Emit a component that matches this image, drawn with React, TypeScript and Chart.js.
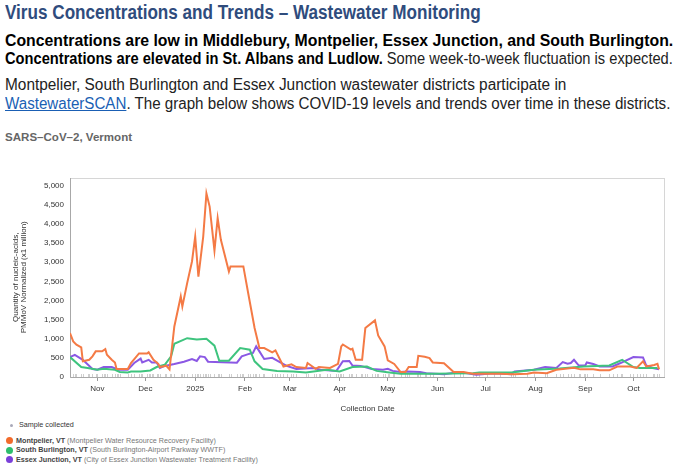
import React, { useEffect, useLayoutEffect, useRef } from 'react';
import { Chart, registerables } from 'chart.js';

Chart.register(...registerables);

// ---- Data: SARS-CoV-2 in wastewater, PMMoV normalized (x1 million) ----
const montpelierDates = [
  '2024-10-15', '2024-10-17', '2024-10-19', '2024-10-22', '2024-10-23', '2024-10-27', '2024-10-29', '2024-10-31',
  '2024-11-04', '2024-11-06', '2024-11-07', '2024-11-10', '2024-11-12', '2024-11-13', '2024-11-20', '2024-11-22',
  '2024-11-27', '2024-12-02', '2024-12-03', '2024-12-06', '2024-12-09', '2024-12-10', '2024-12-14', '2024-12-16',
  '2024-12-19', '2024-12-23', '2024-12-24', '2024-12-27', '2024-12-30', '2025-01-01', '2025-01-03', '2025-01-06',
  '2025-01-08', '2025-01-10', '2025-01-13', '2025-01-15', '2025-01-17', '2025-01-22', '2025-01-23', '2025-01-31',
  '2025-02-03', '2025-02-07', '2025-02-10', '2025-02-13', '2025-02-18', '2025-02-20', '2025-02-25', '2025-03-02',
  '2025-03-05', '2025-03-11', '2025-03-12', '2025-03-17', '2025-03-19', '2025-03-26', '2025-03-31', '2025-04-02',
  '2025-04-03', '2025-04-08', '2025-04-09', '2025-04-11', '2025-04-15', '2025-04-17', '2025-04-23', '2025-04-25',
  '2025-04-29', '2025-05-01', '2025-05-05', '2025-05-09', '2025-05-12', '2025-05-14', '2025-05-19', '2025-05-20',
  '2025-05-24', '2025-05-27', '2025-05-29', '2025-06-05', '2025-06-11', '2025-06-17', '2025-06-23', '2025-07-02',
  '2025-07-10', '2025-07-18', '2025-07-27', '2025-07-31', '2025-08-08', '2025-08-14', '2025-08-25', '2025-08-29',
  '2025-09-06', '2025-09-10', '2025-09-16', '2025-09-21', '2025-09-29', '2025-10-03', '2025-10-07', '2025-10-09',
  '2025-10-14', '2025-10-16', '2025-10-17',
];
const montpelierValues = [
  1150, 930, 845, 775, 410, 450, 540, 670,
  670, 730, 580, 450, 380, 210, 210, 365,
  615, 615, 650, 450, 345, 260, 295, 200,
  1320, 2105, 1845, 2455, 3020, 3670, 2625, 3670,
  4800, 4455, 3305, 4150, 3585, 2755, 2890, 2890,
  2195, 1280, 757, 757, 645, 695, 275, 330,
  260, 235, 365, 215, 260, 235, 345, 800,
  850, 715, 740, 450, 450, 1280, 1480, 1085,
  800, 435, 340, 130, 130, 260, 260, 555,
  530, 495, 380, 360, 130, 130, 85, 85,
  85, 75, 85, 120, 100, 190, 240, 200,
  200, 175, 175, 275, 275, 235, 410, 275,
  315, 345, 200,
];

const southBurlingtonDates = [
  '2024-10-15', '2024-10-22', '2024-10-26', '2024-11-01', '2024-11-05', '2024-11-12', '2024-11-15', '2024-11-20',
  '2024-11-22', '2024-11-28', '2024-12-04', '2024-12-08', '2024-12-13', '2024-12-17', '2024-12-19', '2024-12-27',
  '2025-01-02', '2025-01-08', '2025-01-13', '2025-01-16', '2025-01-22', '2025-01-29', '2025-02-04', '2025-02-07',
  '2025-02-12', '2025-02-21', '2025-03-03', '2025-03-11', '2025-03-24', '2025-04-01', '2025-04-09', '2025-04-18',
  '2025-04-24', '2025-05-02', '2025-05-09', '2025-05-29', '2025-06-23', '2025-06-27', '2025-07-17', '2025-07-31',
  '2025-08-16', '2025-08-31', '2025-09-16', '2025-09-24', '2025-10-01', '2025-10-05', '2025-10-16',
];
const southBurlingtonValues = [
  520, 260, 235, 190, 215, 190, 130, 120,
  145, 145, 170, 260, 320, 540, 870, 1015,
  980, 1000, 820, 425, 425, 757, 715, 410,
  210, 160, 145, 120, 190, 145, 260, 275,
  160, 120, 85, 85, 100, 120, 120, 190,
  225, 275, 300, 450, 260, 235, 235,
];

const essexJunctionDates = [
  '2024-10-15', '2024-10-18', '2024-10-23', '2024-10-29', '2024-11-01', '2024-11-05', '2024-11-10', '2024-11-14',
  '2024-11-20', '2024-11-24', '2024-11-28', '2024-11-29', '2024-12-03', '2024-12-05', '2024-12-08', '2024-12-10',
  '2024-12-13', '2024-12-19', '2024-12-25', '2024-12-30', '2025-01-02', '2025-01-04', '2025-01-07', '2025-01-09',
  '2025-01-27', '2025-01-30', '2025-02-04', '2025-02-06', '2025-02-08', '2025-02-10', '2025-02-13', '2025-02-18',
  '2025-02-23', '2025-02-27', '2025-03-05', '2025-03-16', '2025-03-20', '2025-03-30', '2025-04-03', '2025-04-07',
  '2025-04-09', '2025-04-14', '2025-04-21', '2025-04-28', '2025-05-01', '2025-05-04', '2025-05-09', '2025-05-13',
  '2025-05-21', '2025-05-25', '2025-06-05', '2025-06-15', '2025-06-25', '2025-07-06', '2025-07-17', '2025-07-19',
  '2025-07-31', '2025-08-07', '2025-08-14', '2025-08-18', '2025-08-21', '2025-08-23', '2025-08-25', '2025-08-28',
  '2025-09-01', '2025-09-02', '2025-09-06', '2025-09-10', '2025-09-18', '2025-09-23', '2025-10-01', '2025-10-07',
  '2025-10-09', '2025-10-13', '2025-10-17',
];
const essexJunctionValues = [
  520, 580, 450, 210, 190, 260, 260, 190,
  190, 365, 480, 380, 450, 380, 380, 235,
  290, 340, 400, 470, 420, 540, 520, 400,
  375, 540, 610, 630, 800, 670, 470, 500,
  380, 290, 210, 235, 190, 160, 410, 420,
  300, 290, 210, 190, 215, 160, 130, 145,
  130, 100, 75, 130, 60, 100, 75, 145,
  190, 260, 235, 390, 345, 365, 450, 300,
  300, 380, 340, 275, 275, 365, 520, 510,
  300, 235, 200,
];

// Axis ticks
const monthTickDates = [
  '2024-11-01', '2024-12-01', '2025-01-01', '2025-02-01', '2025-03-01', '2025-04-01',
  '2025-05-01', '2025-06-01', '2025-07-01', '2025-08-01', '2025-09-01', '2025-10-01',
];
const monthTickLabels = ['Nov', 'Dec', '2025', 'Feb', 'Mar', 'Apr', 'May', 'Jun', 'Jul', 'Aug', 'Sep', 'Oct'];
const yTickValues = [0, 500, 1000, 1500, 2000, 2500, 3000, 3500, 4000, 4500, 5000];

const seriesNames = ['Montpelier, VT', 'South Burlington, VT', 'Essex Junction, VT'];
const facilityNames = [
  'Montpelier Water Resource Recovery Facility',
  'South Burlington-Airport Parkway WWTF',
  'City of Essex Junction Wastewater Treatment Facility',
];
const lineColors = ['#f47a45', '#3ec47e', '#8b58e4'];
const dotColors = ['#f26b2b', '#2dbe6c', '#7a3fd9'];

const toDay = (s: string) =>
  Date.UTC(+s.slice(0, 4), +s.slice(5, 7) - 1, +s.slice(8, 10)) / 86400000;

const axisStart = toDay('2024-10-15');
const axisEnd = toDay('2025-10-20') + 0.7;

const sampleDates = Array.from(
  new Set([...montpelierDates, ...southBurlingtonDates, ...essexJunctionDates])
).sort();

const pairs = (dates: string[], values: number[]) =>
  dates.map((d, i) => ({ x: toDay(d), y: values[i] }));

const chartFont = '"Liberation Sans", Arial, sans-serif';

// Frame around the plot area plus the small "sample collected" marks on the baseline
const framePlugin = {
  id: 'frameAndSamples',
  beforeDatasetsDraw(chart: any) {
    const { ctx, chartArea: a, scales } = chart;
    const x = scales.x;
    ctx.save();
    ctx.strokeStyle = '#cfcfcf';
    ctx.lineWidth = 1;
    sampleDates.forEach((d) => {
      const px = Math.round(x.getPixelForValue(toDay(d))) + 0.5;
      ctx.beginPath();
      ctx.moveTo(px, a.bottom - 3);
      ctx.lineTo(px, a.bottom);
      ctx.stroke();
    });
    ctx.strokeStyle = '#d6d6d6';
    ctx.strokeRect(Math.round(a.left) + 0.5, Math.round(a.top) + 0.5, Math.round(a.width) - 1, Math.round(a.height) - 1);
    ctx.strokeStyle = '#a8a8a8';
    ctx.beginPath();
    ctx.moveTo(Math.round(a.left) + 0.5, Math.round(a.top));
    ctx.lineTo(Math.round(a.left) + 0.5, Math.round(a.bottom) + 0.5);
    ctx.lineTo(Math.round(a.right), Math.round(a.bottom) + 0.5);
    ctx.stroke();
    ctx.restore();
  },
};

function WastewaterChart() {
  const canvasRef = useRef<HTMLCanvasElement | null>(null);

  useEffect(() => {
    if (!canvasRef.current) return;
    const series = [
      pairs(montpelierDates, montpelierValues),
      pairs(southBurlingtonDates, southBurlingtonValues),
      pairs(essexJunctionDates, essexJunctionValues),
    ];
    const chart = new Chart(canvasRef.current, {
      type: 'line',
      data: {
        datasets: series.map((data, i) => ({
          label: seriesNames[i],
          data,
          borderColor: lineColors[i],
          backgroundColor: lineColors[i],
          borderWidth: 2,
          pointRadius: 0,
          tension: 0,
        })),
      },
      options: {
        responsive: false,
        devicePixelRatio: 1,
        animation: false,
        layout: { padding: { top: 27.5, left: 5, right: 15, bottom: 0 } },
        plugins: { legend: { display: false }, tooltip: { enabled: false } },
        scales: {
          x: {
            type: 'linear',
            min: axisStart,
            max: axisEnd,
            afterFit: (scale: any) => {
              scale.height = 41;
            },
            afterBuildTicks: (scale: any) => {
              scale.ticks = monthTickDates.map((d) => ({ value: toDay(d) }));
            },
            ticks: {
              autoSkip: false,
              maxRotation: 0,
              padding: 3,
              color: '#333',
              font: { family: chartFont, size: 8 },
              callback: (v: any) => {
                const idx = monthTickDates.findIndex((d) => toDay(d) === v);
                return idx >= 0 ? monthTickLabels[idx] : '';
              },
            },
            grid: { drawOnChartArea: false, drawTicks: true, tickLength: 4, color: '#999' },
            border: { display: false },
            title: {
              display: true,
              text: 'Collection Date',
              color: '#333',
              font: { family: chartFont, size: 8 },
              padding: { top: 0, bottom: 4 },
            },
          },
          y: {
            type: 'linear',
            min: 0,
            max: 5215,
            afterFit: (scale: any) => {
              scale.width = 65;
            },
            afterBuildTicks: (scale: any) => {
              scale.ticks = yTickValues.map((v) => ({ value: v }));
            },
            ticks: {
              autoSkip: false,
              padding: 6,
              color: '#333',
              font: { family: chartFont, size: 8 },
              callback: (v: any) => Number(v).toLocaleString('en-US'),
            },
            grid: { display: false, drawTicks: false },
            border: { display: false },
            title: {
              display: true,
              text: ['Quantity of nucleic-acids,', 'PMMoV Normalized (x1 million)'],
              color: '#333',
              font: { family: chartFont, size: 8, lineHeight: 1.1 },
              padding: { top: 6, bottom: 0 },
            },
          },
        },
      },
      plugins: [framePlugin],
    });
    return () => chart.destroy();
  }, []);

  return <canvas ref={canvasRef} width={680} height={268} style={{ display: 'block', width: 680, height: 268 }} />;
}

// A single line of text squeezed horizontally to a given width (condensed face look)
function FitLine(props: { top: number; width: number; style: React.CSSProperties; children: React.ReactNode }) {
  const ref = useRef<HTMLDivElement | null>(null);
  useLayoutEffect(() => {
    const el = ref.current;
    if (!el) return;
    const natural = el.offsetWidth;
    if (natural > 0) el.style.transform = `scaleX(${props.width / natural})`;
  }, [props.width]);
  return (
    <div
      ref={ref}
      style={{
        position: 'absolute',
        left: 5,
        top: props.top,
        whiteSpace: 'nowrap',
        display: 'inline-block',
        transformOrigin: '0 0',
        ...props.style,
      }}
    >
      {props.children}
    </div>
  );
}

const textFont = '"Liberation Sans", Arial, sans-serif';

export default function App() {
  return (
    <div style={{ position: 'absolute', left: 0, top: 0, width: 680, height: 468, background: '#fff', overflow: 'hidden' }}>
      <FitLine top={0} width={476} style={{ fontFamily: textFont, fontWeight: 700, fontSize: 20, lineHeight: '24px', color: '#2f4c7d' }}>
        Virus Concentrations and Trends – Wastewater Monitoring
      </FitLine>
      <FitLine top={31} width={668} style={{ fontFamily: textFont, fontWeight: 700, fontSize: 16, lineHeight: '19px', color: '#000' }}>
        Concentrations are low in Middlebury, Montpelier, Essex Junction, and South Burlington.
      </FitLine>
      <FitLine top={49} width={668} style={{ fontFamily: textFont, fontSize: 16, lineHeight: '19px', color: '#222' }}>
        <b style={{ color: '#000' }}>Concentrations are elevated in St. Albans and Ludlow.</b> Some week-to-week fluctuation is expected.
      </FitLine>
      <FitLine top={75} width={561} style={{ fontFamily: textFont, fontSize: 16, lineHeight: '19px', color: '#222' }}>
        Montpelier, South Burlington and Essex Junction wastewater districts participate in
      </FitLine>
      <FitLine top={94} width={665} style={{ fontFamily: textFont, fontSize: 16, lineHeight: '19px', color: '#222' }}>
        <span style={{ color: '#1a5fb4', textDecoration: 'underline' }}>WastewaterSCAN</span>. The graph below shows COVID-19 levels and trends over time in these districts.
      </FitLine>
      <FitLine top={130} width={127} style={{ fontFamily: textFont, fontWeight: 700, fontSize: 11, lineHeight: '14px', color: '#666' }}>
        SARS–CoV–2, Vermont
      </FitLine>

      <div style={{ position: 'absolute', left: 0, top: 150 }}>
        <WastewaterChart />
      </div>

      <div style={{ position: 'absolute', left: 0, top: 419, fontFamily: chartFont, fontSize: 7.2, lineHeight: '10px' }}>
        <div style={{ position: 'absolute', left: 10, top: 5, width: 3, height: 3, borderRadius: '50%', background: '#a9a9b9' }} />
        <div style={{ position: 'absolute', left: 19, top: 1, whiteSpace: 'nowrap', color: '#333' }}>Sample collected</div>
        {seriesNames.map((name, i) => (
          <React.Fragment key={name}>
            <div
              style={{
                position: 'absolute',
                left: 6,
                top: 18 + i * 9.5,
                width: 7,
                height: 7,
                borderRadius: '50%',
                background: dotColors[i],
              }}
            />
            <div style={{ position: 'absolute', left: 16, top: 16.5 + i * 9.5, whiteSpace: 'nowrap', color: '#777' }}>
              <b style={{ color: '#444' }}>{name}</b> ({facilityNames[i]})
            </div>
          </React.Fragment>
        ))}
      </div>
    </div>
  );
}
